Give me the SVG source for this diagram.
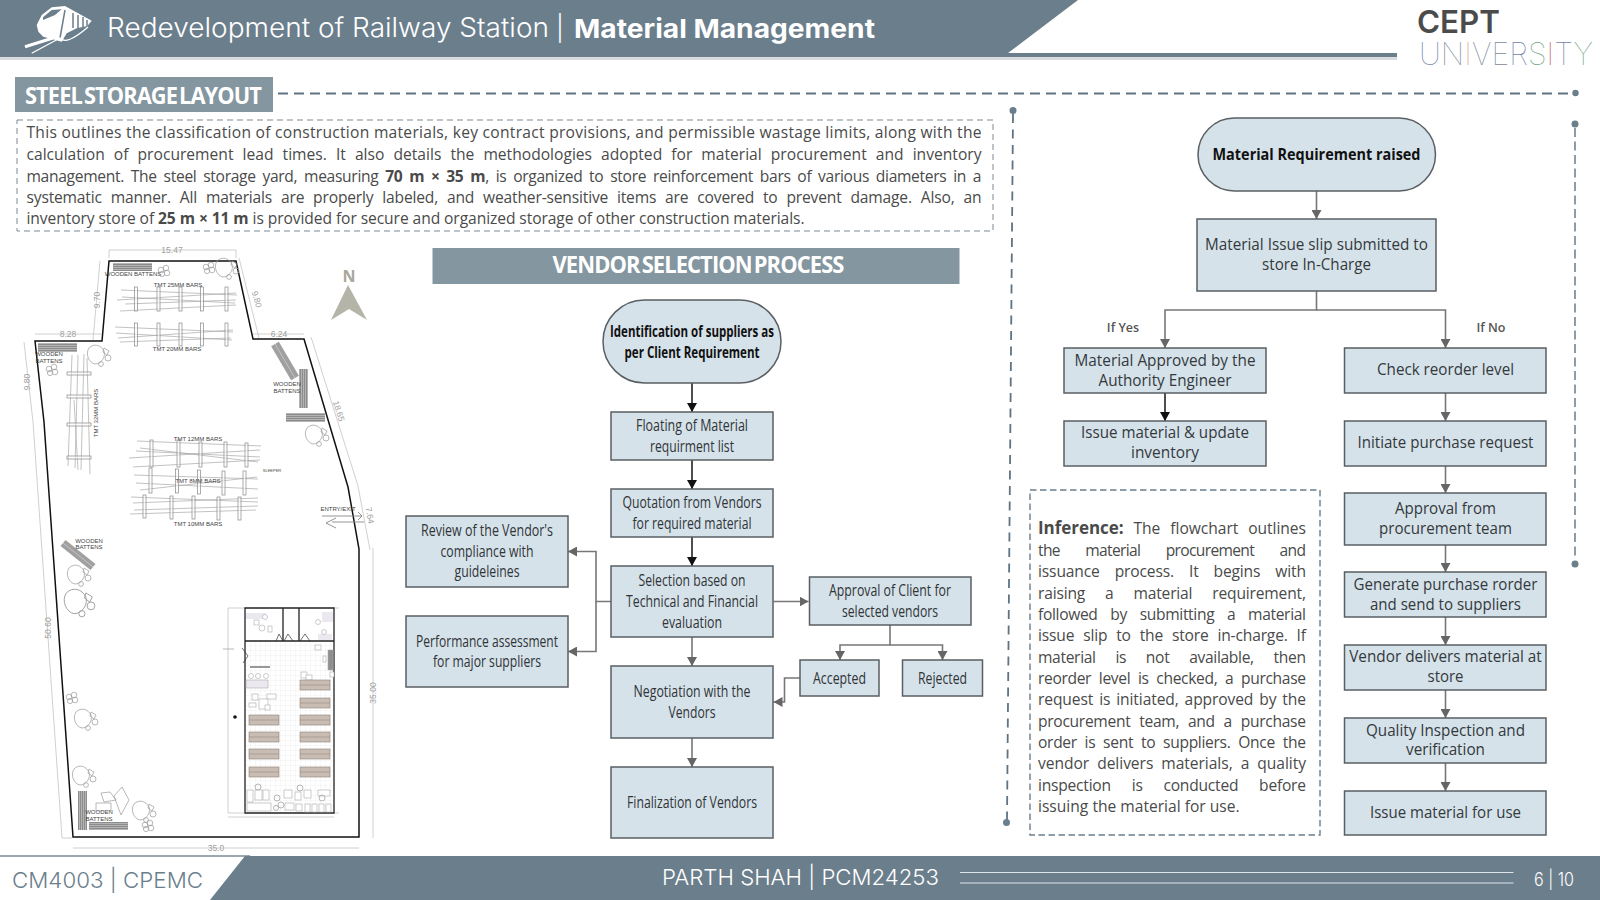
<svg xmlns="http://www.w3.org/2000/svg" width="1600" height="900" viewBox="0 0 1600 900">
<style>
text{font-family:"Open Sans","Liberation Sans",sans-serif}
.band{fill:#6b7e8c}
.box{fill:#d6e2e9;stroke:#5a5f63;stroke-width:1.5}
.t{font-size:15.5px;fill:#2f3438;text-anchor:middle}
.tb{font-size:15.5px;fill:#111;text-anchor:middle;font-weight:700}
.r{font-size:15.5px;fill:#33393d;text-anchor:middle}
.p{font-size:15.6px;fill:#4a4a4a}
.c{fill:none;stroke:#777;stroke-width:1.6}
.k{fill:none;stroke:#222;stroke-width:1.6}
.hd{font-family:Inter,"Liberation Sans",sans-serif;fill:#fff;font-weight:300}
.dash{fill:none;stroke:#5f7382;stroke-width:1.8;stroke-dasharray:10 6}
.thin{fill:none;stroke:#7d8b95;stroke-width:1;stroke-dasharray:6 4}
.dot{fill:#6b7e8c}
.bar{fill:none;stroke:#a8a8a8;stroke-width:.7}
.sl{fill:#fff;fill-opacity:.5;stroke:#888;stroke-width:.7}
.lb{font-family:"Liberation Sans",sans-serif;font-size:6px;fill:#444;text-anchor:middle}
.dm{font-family:"Liberation Sans",sans-serif;font-size:8.500px;fill:#a0a0a0;text-anchor:middle}
.dl{fill:none;stroke:#c4c4c4;stroke-width:.8}
.tree{fill:none;stroke:#999;stroke-width:.7}
.rack{fill:#c9bcb2;stroke:#8a8078;stroke-width:.6}
.wall{fill:none;stroke:#222;stroke-width:1.3}
.fx{fill:#fff;stroke:#aaa;stroke-width:.6}
</style>
<defs>
<marker id="ag" markerUnits="userSpaceOnUse" markerWidth="10" markerHeight="10" refX="9" refY="5" orient="auto"><path d="M0 0L9 5L0 10Z" fill="#666"/></marker>
<marker id="ak" markerUnits="userSpaceOnUse" markerWidth="10" markerHeight="10" refX="9" refY="5" orient="auto"><path d="M0 0L9 5L0 10Z" fill="#111"/></marker>
<pattern id="grid" width="5" height="5" patternUnits="userSpaceOnUse"><path d="M5 0H0V5" fill="none" stroke="#e3e3e3" stroke-width=".5"/></pattern>
<pattern id="hatchH" width="3" height="2" patternUnits="userSpaceOnUse"><rect width="3" height="2" fill="#b4b4b4"/><rect width="3" height="1" fill="#8c8c8c"/></pattern>
<pattern id="hatchV" width="2" height="3" patternUnits="userSpaceOnUse"><rect width="2" height="3" fill="#b4b4b4"/><rect width="1" height="3" fill="#8c8c8c"/></pattern>
<g id="tree"><path class="tree" d="M-9-7C-4-12 3-10 6-4C8 2 3 9-3 9C-9 8-13-1-9-7Z"/><path class="tree" d="M6-7L11-4L9 0L5-3Z"/><circle class="tree" cx="10" cy="3" r="3"/><circle class="tree" cx="3" cy="9" r="2.400"/></g>
<g id="cl"><circle class="tree" r="2.800"/><circle class="tree" cx="5" cy="-2" r="2.800"/><circle class="tree" cx="6" cy="3" r="2.800"/><circle class="tree" cx="1" cy="4" r="2.600"/></g>
</defs>
<rect width="1600" height="900" fill="#fff"/>

<g id="header">
<rect x="0" y="57" width="1397" height="3" fill="#d8dcdf"/>
<path class="band" d="M0 0H1078L1008 53H1397V57H0Z"/>
<g id="train-icon">
<path fill="#fff" d="M36.700 25L41.700 15L51.700 7.300L65 6L91.700 20.700L87.300 26L76.700 28.300L66.700 33.300L61.700 41.700L43.300 36.700L38.300 31.700Z"/>
<path fill="#6b7e8c" d="M43 17.300L51.700 10L61.700 9.300L55 15L43 20Z"/>
<path d="M73 13V28M78 15V28M83 17V27M87 20V26M65 10L60 38" stroke="#6b7e8c" stroke-width="1.500" fill="none"/>
<path d="M25 46.700L53 38" stroke="#fff" stroke-width="3" fill="none"/>
<path d="M31.700 53.300L60 38Q66 46 88 27" stroke="#fff" stroke-width="1.300" fill="none"/>
</g>
<text class="hd" x="107" y="37" font-size="27" textLength="442" lengthAdjust="spacingAndGlyphs">Redevelopment of Railway Station</text>
<text class="hd" x="556" y="37" font-size="25">|</text>
<text class="hd" x="574" y="38" font-size="26" style="font-weight:700" textLength="301" lengthAdjust="spacingAndGlyphs">Material Management</text>
</g>

<g id="logo">
<text x="1417" y="33" font-size="31" font-weight="600" fill="#4b4b4b" textLength="83" lengthAdjust="spacingAndGlyphs" style="font-family:Inter,'Liberation Sans',sans-serif">CEPT</text>
<text x="1419" y="65" font-size="31" font-weight="100" textLength="174" lengthAdjust="spacingAndGlyphs" style="font-family:Inter,'Liberation Sans',sans-serif"><tspan fill="#6f7fa8">U</tspan><tspan fill="#7d8a99">N</tspan><tspan fill="#d9a679">I</tspan><tspan fill="#7d8a99">V</tspan><tspan fill="#7d8a99">E</tspan><tspan fill="#6f7fa8">R</tspan><tspan fill="#6ea57f">S</tspan><tspan fill="#c0584d">I</tspan><tspan fill="#6f7fa8">T</tspan><tspan fill="#6ea57f">Y</tspan></text>
</g>

<g id="section-frames">
<rect x="15" y="77" width="258" height="35" fill="#84969f"/>
<text x="25" y="104" font-size="24" font-weight="700" fill="#fff" textLength="236" lengthAdjust="spacingAndGlyphs" word-spacing="-3" letter-spacing="-1">STEEL STORAGE LAYOUT</text>
<path class="dash" d="M278 93.500H1572"/>
<circle class="dot" cx="1575.500" cy="93" r="3.200"/>
<path class="dash" d="M1013 114L1007 820" style="stroke-dasharray:9 6.500"/>
<circle class="dot" cx="1013" cy="110.500" r="3.500"/>
<circle class="dot" cx="1006.500" cy="822.500" r="3.500"/>
<path class="dash" d="M1575 128V560" style="stroke-dasharray:9 4.500;stroke-width:1.400"/>
<circle class="dot" cx="1575" cy="124" r="3.500"/>
<circle class="dot" cx="1575" cy="564" r="3.500"/>
<rect class="thin" x="17" y="120" width="976" height="111"/>
<rect class="thin" x="1030" y="490" width="290" height="345" style="stroke-width:1.400;stroke-dasharray:6.500 3.500;stroke:#6b7e8c"/>
</g>

<g id="intro-text">
<text class="p" x="26.500" y="138" textLength="955" lengthAdjust="spacing">This outlines the classification of construction materials, key contract provisions, and permissible wastage limits, along with the</text>
<text class="p" x="26.500" y="160" textLength="955" lengthAdjust="spacing" word-spacing="5">calculation of procurement lead times. It also details the methodologies adopted for material procurement and inventory</text>
<text class="p" x="26.500" y="181.500" textLength="955" lengthAdjust="spacing" word-spacing="3">management. The steel storage yard, measuring <tspan font-weight="700">70 m × 35 m</tspan>, is organized to store reinforcement bars of various diameters in a</text>
<text class="p" x="26.500" y="202.500" textLength="955" lengthAdjust="spacing" word-spacing="5">systematic manner. All materials are properly labeled, and weather-sensitive items are covered to prevent damage. Also, an</text>
<text class="p" x="26.500" y="224" textLength="778" lengthAdjust="spacing">inventory store of <tspan font-weight="700">25 m × 11 m</tspan> is provided for secure and organized storage of other construction materials.</text>
</g>

<g id="site-plan">
<path d="M348 487L359 549V837H73L44 422L35 341H102L109 261H236L253 339H304L348 487" fill="none" stroke="#111" stroke-width="1.500"/>
<path class="dl" d="M109 250H236M109 250V258M236 250V258M100 261L93 340M239 258L259 338M35 334H102M253 334H304M24 342L33 422M311 337L358 486M358 486L370 550M33 422L62 838M373 548V838M73 848H359M62 838L72 838"/>
<text class="dm" x="172" y="253">15.47</text>
<text class="dm" x="68" y="337">8.28</text>
<text class="dm" x="279" y="337">6.24</text>
<text class="dm" transform="translate(100 300) rotate(-90)">9.70</text>
<text class="dm" transform="translate(254 300) rotate(75)">9.80</text>
<text class="dm" transform="translate(30 382) rotate(-90)">9.80</text>
<text class="dm" transform="translate(336 412) rotate(72)">18.65</text>
<text class="dm" transform="translate(367 516) rotate(80)">7.64</text>
<text class="dm" transform="translate(51 628) rotate(-90)">50.60</text>
<text class="dm" transform="translate(376 693) rotate(-90)">35.00</text>
<text class="dm" x="216" y="851">35.0</text>
<g id="battens">
<rect fill="url(#hatchH)" x="113" y="263" width="39" height="8"/>
<rect fill="url(#hatchH)" x="38" y="343" width="39" height="9"/>
<path d="M275 344L295 378" stroke="#a0a0a0" stroke-width="9"/>
<path d="M275 344L295 378" stroke="#c4c4c4" stroke-width="1"/>
<rect fill="url(#hatchV)" x="299" y="369" width="9" height="39"/>
<rect fill="url(#hatchH)" x="286" y="413" width="39" height="9"/>
<path d="M63 543L93 567" stroke="#a0a0a0" stroke-width="8"/>
<path d="M63 543L93 567" stroke="#c4c4c4" stroke-width="1"/>
<rect fill="url(#hatchV)" x="78" y="791" width="9" height="39"/>
<rect fill="url(#hatchH)" x="89" y="822" width="39" height="8"/>
</g>
<g id="bars">
<path class="bar" d="M121 290L237 295M117 300L236 293M122 297L235 303M120 311L236 305M125 304L236 300"/>
<path class="bar" d="M115 327L233 332M116 333L232 340M118 338L233 330M120 342L231 338"/>
<path class="bar" d="M72 355L68 466M78 355L75 468M84 354L81 470M87 358L90 474M74 400L78 470"/>
<path class="bar" d="M137 441L261 446M136 451L260 457M129 458L260 450M133 467L260 460M140 448L258 462"/>
<path class="bar" d="M134 475L258 479M136 483L258 489M140 490L257 477"/>
<path class="bar" d="M131 497L258 502M134 510L258 506M130 514L256 510M133 503L258 498"/>
<g class="sl"><rect x="134.500" y="287" width="3" height="24"/><rect x="157" y="287" width="3" height="24"/><rect x="179" y="287" width="3" height="24"/><rect x="200.500" y="287" width="3" height="24"/><rect x="225" y="287" width="3" height="24"/>
<rect x="134.500" y="323" width="3" height="23"/><rect x="157" y="323" width="3" height="23"/><rect x="179" y="323" width="3" height="23"/><rect x="200.500" y="323" width="3" height="23"/><rect x="225" y="323" width="3" height="23"/>
<rect x="67" y="372" width="24" height="3"/><rect x="67" y="395" width="24" height="3"/><rect x="67" y="423" width="24" height="3"/><rect x="67" y="456" width="24" height="3"/>
<rect x="150" y="440" width="3" height="27"/><rect x="177" y="440" width="3" height="27"/><rect x="199" y="442" width="3" height="25"/><rect x="224" y="442" width="3" height="25"/><rect x="245" y="443" width="3" height="24"/>
<rect x="149" y="468" width="3" height="25"/><rect x="175.500" y="469" width="3" height="24"/><rect x="197.500" y="470" width="3" height="24"/><rect x="222" y="471" width="3" height="24"/><rect x="243" y="471" width="3" height="24"/>
<rect x="143" y="495" width="3" height="23"/><rect x="170" y="496" width="3" height="23"/><rect x="192" y="496" width="3" height="23"/><rect x="217" y="497" width="3" height="23"/><rect x="238" y="497" width="3" height="23"/></g>
</g>
<g id="plan-labels">
<text class="lb" x="133" y="276">WOODEN BATTENS</text>
<text class="lb" x="49" y="356">WOODEN</text><text class="lb" x="49" y="362.500">BATTENS</text>
<text class="lb" x="287" y="386">WOODEN</text><text class="lb" x="287" y="392.500">BATTENS</text>
<text class="lb" x="89" y="543">WOODEN</text><text class="lb" x="89" y="549">BATTENS</text>
<text class="lb" x="99" y="814">WOODEN</text><text class="lb" x="99" y="821">BATTENS</text>
<text class="lb" x="178" y="287">TMT 25MM BARS</text>
<text class="lb" x="177" y="351">TMT 20MM BARS</text>
<text class="lb" transform="translate(98 413) rotate(-90)">TMT 32MM BARS</text>
<text class="lb" x="198" y="441">TMT 12MM BARS</text>
<text class="lb" x="198" y="483">TMT 8MM BARS</text>
<text class="lb" x="198" y="526">TMT 10MM BARS</text>
<text class="lb" x="272" y="472" style="font-size:4px">SLEEPER</text>
<text class="lb" x="338" y="511">ENTRY/EXIT</text>
</g>
<path d="M322 516H362M358 512L362 516L358 520M364 522H332M336 518L326 523L336 528" fill="none" stroke="#888" stroke-width=".9"/>
<g id="trees">
<use href="#cl" x="161" y="270"/><use href="#tree" x="226" y="268"/><use href="#cl" x="206" y="267"/>
<use href="#tree" x="98" y="355"/><use href="#cl" x="49" y="369"/><use href="#tree" x="316" y="435"/>
<use href="#tree" x="78" y="575"/><use href="#tree" transform="translate(78 602) scale(1.300)"/><use href="#tree" x="85" y="719"/><use href="#cl" x="69" y="697"/>
<use href="#tree" x="83" y="776"/><use href="#tree" x="143" y="811"/><use href="#cl" x="145" y="825"/>
<path class="tree" d="M101 793L110 792L116 800L104 802ZM114 796L122 787L129 800L121 815ZM96 803H111V811H96Z"/>
</g>
<path d="M331 320L348 285L367 320L349 309Z" fill="#b5b4a8"/>
<text x="349" y="282" font-size="16" font-weight="700" fill="#a9a89c" text-anchor="middle">N</text>
<g id="inventory-store">
<path class="dl" d="M228 608V813H245M228 608H245M334 813H339M334 608H339M228 817H334"/>
<path d="M223 649H234" stroke="#999" stroke-width=".7"/>
<rect x="245" y="641" width="89" height="172" fill="url(#grid)"/>
<rect x="246" y="613" width="20" height="6" fill="#ece8ef"/><rect x="322" y="612" width="11" height="10" fill="#ece8ef"/><rect x="318" y="634" width="14" height="6" fill="#ece8ef"/>
<path class="wall" d="M245 608H334V813H245ZM245 641H334M283 608V641M299 608V641"/>
<g class="fx"><rect x="254" y="620" width="5" height="5"/><circle cx="265" cy="617" r="2.500"/><circle cx="262" cy="628" r="3"/><rect x="268" y="626" width="4" height="6"/><circle cx="318" cy="622" r="2.500"/><circle cx="324" cy="632" r="2.500"/><rect x="246" y="680" width="22" height="8" style="fill:#ece8ef"/><circle cx="251" cy="676" r="2.500"/><circle cx="258" cy="676" r="2.500"/><circle cx="266" cy="676" r="2.500"/><rect x="301" y="672" width="6" height="6"/><rect x="306" y="675" width="6" height="5"/>
<rect x="252" y="694" width="6" height="6"/><rect x="267" y="694" width="9" height="5"/><rect x="249" y="703" width="7" height="4"/><rect x="259" y="699" width="9" height="10"/><rect x="265" y="705" width="5" height="5"/>
<rect x="328" y="650" width="5" height="20" style="fill:#8e8e8e"/><rect x="323" y="656" width="3" height="6"/><rect x="315" y="645" width="6" height="5"/><rect x="330" y="672" width="4" height="5"/>
<rect x="247" y="790" width="6" height="12"/><rect x="255" y="790" width="7" height="10"/><rect x="263" y="790" width="6" height="10"/><rect x="247" y="803" width="24" height="8"/>
<rect x="284" y="790" width="8" height="8"/><rect x="295" y="792" width="6" height="8"/><rect x="304" y="790" width="7" height="8"/><rect x="318" y="790" width="12" height="6"/>
<rect x="285" y="803" width="9" height="7"/><rect x="296" y="804" width="6" height="7"/><rect x="305" y="804" width="5" height="8"/><rect x="312" y="804" width="5" height="8"/><rect x="319" y="804" width="5" height="8"/><rect x="326" y="804" width="5" height="8"/></g>
<g class="tree"><circle cx="258" cy="787" r="3"/><circle cx="277" cy="798" r="3"/><circle cx="281" cy="805" r="3"/><circle cx="276" cy="808" r="2.500"/><circle cx="300" cy="788" r="3"/><circle cx="322" cy="798" r="3"/></g>
<path d="M250 667H270" stroke="#333" stroke-width="1"/>
<path d="M276 641L279 634L283 641M284 641L288 634L293 641M300 641L305 634L310 641M242 648L248 656L243 663" fill="none" stroke="#333" stroke-width=".7"/>
<g class="rack"><rect x="300" y="680" width="30" height="10"/><rect x="300" y="698" width="30" height="10"/><rect x="300" y="715" width="30" height="10"/><rect x="300" y="732" width="30" height="10"/><rect x="300" y="749" width="30" height="10"/><rect x="300" y="767" width="30" height="10"/><rect x="249" y="715" width="30" height="10"/><rect x="249" y="732" width="30" height="10"/><rect x="249" y="749" width="30" height="10"/><rect x="249" y="767" width="30" height="10"/></g>
<path d="M300 685H330M300 703H330M300 720H330M300 737H330M300 754H330M300 772H330M249 720H279M249 737H279M249 754H279M249 772H279" stroke="#8a8078" stroke-width=".5"/>
<circle cx="235" cy="717" r="1.800" fill="#111"/>
</g>
</g>

<g id="vendor-title">
<rect x="432.500" y="248" width="527" height="36" fill="#84969f"/>
<text x="698" y="273" font-size="24" font-weight="700" fill="#fff" text-anchor="middle" textLength="291" lengthAdjust="spacingAndGlyphs" word-spacing="-3" letter-spacing="-1">VENDOR SELECTION PROCESS</text>
</g>

<g id="connectors">
<path class="k" d="M692 383V412" marker-end="url(#ak)"/>
<path class="k" d="M692 460V489" marker-end="url(#ak)"/>
<path class="k" d="M692 537V566" marker-end="url(#ak)"/>
<path class="c" d="M692 637V666" marker-end="url(#ag)"/>
<path class="c" d="M692 738V767" marker-end="url(#ag)"/>
<path class="c" d="M611 601.500H596V551.500H568" marker-end="url(#ag)"/>
<path class="c" d="M596 601.500V651.500H568" marker-end="url(#ag)"/>
<path class="c" d="M773.500 601.500H808.500" marker-end="url(#ag)"/>
<path class="c" d="M890 625V645H840V660" marker-end="url(#ag)"/>
<path class="c" d="M890 645H942.500V660" marker-end="url(#ag)"/>
<path class="c" d="M800 678H784.500V702H773.500" marker-end="url(#ag)"/>
<path class="c" d="M1316.500 191V219" marker-end="url(#ag)"/>
<path class="c" d="M1316.500 291V310H1165V348" marker-end="url(#ag)"/>
<path class="c" d="M1316.500 310H1445.500V348" marker-end="url(#ag)"/>
<path class="k" d="M1165 393V421" marker-end="url(#ak)"/>
<path class="c" d="M1445.500 393V421" marker-end="url(#ag)"/>
<path class="c" d="M1445.500 466V493" marker-end="url(#ag)"/>
<path class="c" d="M1445.500 545V572" marker-end="url(#ag)"/>
<path class="c" d="M1445.500 617V645" marker-end="url(#ag)"/>
<path class="c" d="M1445.500 690V718" marker-end="url(#ag)"/>
<path class="c" d="M1445.500 763V791" marker-end="url(#ag)"/>
</g>

<g id="n-identification"><rect class="box" x="603" y="300" width="178" height="83" rx="41.500"/><text class="tb" x="692" y="337" textLength="164" lengthAdjust="spacingAndGlyphs">Identification of suppliers as</text><text class="tb" x="692" y="358" textLength="135" lengthAdjust="spacingAndGlyphs">per Client Requirement</text></g>
<g id="n-floating"><rect class="box" x="611" y="412" width="162" height="48"/><text class="t" x="692" y="431" textLength="112" lengthAdjust="spacingAndGlyphs">Floating of Material</text><text class="t" x="692" y="452" textLength="84" lengthAdjust="spacingAndGlyphs">requirment list</text></g>
<g id="n-quotation"><rect class="box" x="611" y="489" width="162" height="48"/><text class="t" x="692" y="508" textLength="139" lengthAdjust="spacingAndGlyphs">Quotation from Vendors</text><text class="t" x="692" y="529" textLength="119" lengthAdjust="spacingAndGlyphs">for required material</text></g>
<g id="n-review"><rect class="box" x="406" y="516" width="162" height="71"/><text class="t" x="487" y="536" textLength="132" lengthAdjust="spacingAndGlyphs">Review of the Vendor's</text><text class="t" x="487" y="557" textLength="93" lengthAdjust="spacingAndGlyphs">compliance with</text><text class="t" x="487" y="577" textLength="65" lengthAdjust="spacingAndGlyphs">guideleines</text></g>
<g id="n-performance"><rect class="box" x="406" y="616" width="162" height="71"/><text class="t" x="487" y="647" textLength="142" lengthAdjust="spacingAndGlyphs">Performance assessment</text><text class="t" x="487" y="667" textLength="108" lengthAdjust="spacingAndGlyphs">for major suppliers</text></g>
<g id="n-selection"><rect class="box" x="611" y="566" width="162" height="71"/><text class="t" x="692" y="586" textLength="107" lengthAdjust="spacingAndGlyphs">Selection based on</text><text class="t" x="692" y="607" textLength="132" lengthAdjust="spacingAndGlyphs">Technical and Financial</text><text class="t" x="692" y="628" textLength="60" lengthAdjust="spacingAndGlyphs">evaluation</text></g>
<g id="n-negotiation"><rect class="box" x="611" y="666" width="162" height="72"/><text class="t" x="692" y="697" textLength="117" lengthAdjust="spacingAndGlyphs">Negotiation with the</text><text class="t" x="692" y="718" textLength="47" lengthAdjust="spacingAndGlyphs">Vendors</text></g>
<g id="n-finalization"><rect class="box" x="611" y="767" width="162" height="71"/><text class="t" x="692" y="808" textLength="130" lengthAdjust="spacingAndGlyphs">Finalization of Vendors</text></g>
<g id="n-approval-client"><rect class="box" x="809.500" y="577" width="161.500" height="48"/><text class="t" x="890" y="596" textLength="122" lengthAdjust="spacingAndGlyphs">Approval of Client for</text><text class="t" x="890" y="617" textLength="96" lengthAdjust="spacingAndGlyphs">selected vendors</text></g>
<g id="n-accepted"><rect class="box" x="800" y="660" width="79" height="36"/><text class="t" x="839.500" y="684" textLength="53" lengthAdjust="spacingAndGlyphs">Accepted</text></g>
<g id="n-rejected"><rect class="box" x="902.500" y="660" width="80" height="36"/><text class="t" x="942.500" y="684" textLength="49" lengthAdjust="spacingAndGlyphs">Rejected</text></g>

<g id="n-requirement"><rect class="box" x="1198" y="118" width="237.500" height="73" rx="36.500"/><text class="tb" x="1316.500" y="160" textLength="208" lengthAdjust="spacingAndGlyphs">Material Requirement raised</text></g>
<g id="n-slip"><rect class="box" x="1197" y="219" width="239" height="72"/><text class="r" x="1316.500" y="250" textLength="223" lengthAdjust="spacingAndGlyphs">Material Issue slip submitted to</text><text class="r" x="1316.500" y="270" textLength="109" lengthAdjust="spacingAndGlyphs">store In-Charge</text></g>
<text id="l-yes" x="1123" y="332" font-size="12.500" font-weight="600" fill="#555" text-anchor="middle">If Yes</text>
<text id="l-no" x="1491" y="332" font-size="12.500" font-weight="600" fill="#555" text-anchor="middle">If No</text>
<g id="n-approved"><rect class="box" x="1064" y="348" width="202" height="45"/><text class="r" x="1165" y="366" textLength="181" lengthAdjust="spacingAndGlyphs">Material Approved by the</text><text class="r" x="1165" y="386" textLength="133" lengthAdjust="spacingAndGlyphs">Authority Engineer</text></g>
<g id="n-issue-update"><rect class="box" x="1064" y="421" width="202" height="45"/><text class="r" x="1165" y="438" textLength="168" lengthAdjust="spacingAndGlyphs">Issue material &amp; update</text><text class="r" x="1165" y="458" textLength="68" lengthAdjust="spacingAndGlyphs">inventory</text></g>
<g id="n-reorder"><rect class="box" x="1344.500" y="348" width="201.500" height="45"/><text class="r" x="1445.500" y="375" textLength="137" lengthAdjust="spacingAndGlyphs">Check reorder level</text></g>
<g id="n-initiate"><rect class="box" x="1344.500" y="421" width="201.500" height="45"/><text class="r" x="1445.500" y="448" textLength="176" lengthAdjust="spacingAndGlyphs">Initiate purchase request</text></g>
<g id="n-procurement"><rect class="box" x="1344.500" y="493" width="201.500" height="52"/><text class="r" x="1445.500" y="514" textLength="101" lengthAdjust="spacingAndGlyphs">Approval from</text><text class="r" x="1445.500" y="534" textLength="133" lengthAdjust="spacingAndGlyphs">procurement team</text></g>
<g id="n-generate"><rect class="box" x="1344.500" y="572" width="201.500" height="45"/><text class="r" x="1445.500" y="590" textLength="184" lengthAdjust="spacingAndGlyphs">Generate purchase rorder</text><text class="r" x="1445.500" y="610" textLength="151" lengthAdjust="spacingAndGlyphs">and send to suppliers</text></g>
<g id="n-delivers"><rect class="box" x="1344.500" y="645" width="201.500" height="45"/><text class="r" x="1445.500" y="662" textLength="192.500" lengthAdjust="spacingAndGlyphs">Vendor delivers material at</text><text class="r" x="1445.500" y="682" textLength="36" lengthAdjust="spacingAndGlyphs">store</text></g>
<g id="n-quality"><rect class="box" x="1344.500" y="718" width="201.500" height="45"/><text class="r" x="1445.500" y="736" textLength="159" lengthAdjust="spacingAndGlyphs">Quality Inspection and</text><text class="r" x="1445.500" y="755" textLength="79" lengthAdjust="spacingAndGlyphs">verification</text></g>
<g id="n-issue-use"><rect class="box" x="1344.500" y="791" width="201.500" height="44"/><text class="r" x="1445.500" y="818" textLength="151" lengthAdjust="spacingAndGlyphs">Issue material for use</text></g>

<g id="inference">
<text class="p" x="1038" y="534" textLength="268" lengthAdjust="spacing" word-spacing="6"><tspan font-weight="700" font-size="17">Inference:</tspan> The flowchart outlines</text>
<text class="p" x="1038" y="556" textLength="268" lengthAdjust="spacing" word-spacing="22">the material procurement and</text>
<text class="p" x="1038" y="577" textLength="268" lengthAdjust="spacing" word-spacing="11">issuance process. It begins with</text>
<text class="p" x="1038" y="599" textLength="268" lengthAdjust="spacing" word-spacing="16">raising a material requirement,</text>
<text class="p" x="1038" y="620" textLength="268" lengthAdjust="spacing" word-spacing="9">followed by submitting a material</text>
<text class="p" x="1038" y="641" textLength="268" lengthAdjust="spacing" word-spacing="5">issue slip to the store in-charge. If</text>
<text class="p" x="1038" y="663" textLength="268" lengthAdjust="spacing" word-spacing="16">material is not available, then</text>
<text class="p" x="1038" y="684" textLength="268" lengthAdjust="spacing" word-spacing="4">reorder level is checked, a purchase</text>
<text class="p" x="1038" y="705" textLength="268" lengthAdjust="spacing" word-spacing="2">request is initiated, approved by the</text>
<text class="p" x="1038" y="727" textLength="268" lengthAdjust="spacing" word-spacing="5">procurement team, and a purchase</text>
<text class="p" x="1038" y="748" textLength="268" lengthAdjust="spacing" word-spacing="4">order is sent to suppliers. Once the</text>
<text class="p" x="1038" y="769" textLength="268" lengthAdjust="spacing" word-spacing="4">vendor delivers materials, a quality</text>
<text class="p" x="1038" y="791" textLength="268" lengthAdjust="spacing" word-spacing="17">inspection is conducted before</text>
<text class="p" x="1038" y="812">issuing the material for use.</text>
</g>

<g id="footer">
<rect x="0" y="855" width="250" height="2" fill="#9aa8b2"/>
<path class="band" d="M245 856H1600V900H210Z"/>
<text x="12" y="888" font-size="22" fill="#6b7e8c" textLength="191" lengthAdjust="spacingAndGlyphs" style="font-family:Inter,'Liberation Sans',sans-serif;font-weight:300">CM4003 | CPEMC</text>
<text class="hd" x="662" y="885" font-size="22" textLength="277" lengthAdjust="spacingAndGlyphs">PARTH SHAH | PCM24253</text>
<path d="M960 872.500H1513.500M960 883H1513.500" stroke="#dfe5e9" stroke-width="1"/>
<text class="hd" x="1534" y="886" font-size="18" textLength="40" lengthAdjust="spacingAndGlyphs">6 | 10</text>
</g>
</svg>
